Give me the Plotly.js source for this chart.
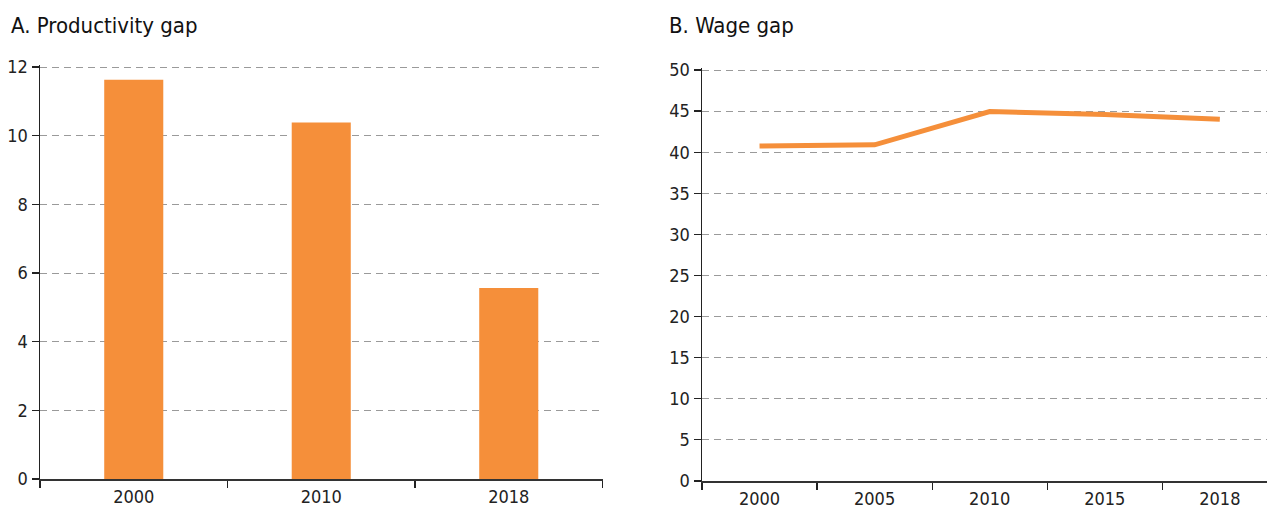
<!DOCTYPE html>
<html>
<head>
<meta charset="utf-8">
<script src="https://cdn.plot.ly/plotly-3.0.1.min.js"></script>
<style>html,body{margin:0;padding:0;background:#fff;}#chart{width:1267px;height:508px;}</style>
</head>
<body>
<div id="chart"></div>
<script>
const prodYears = ['2000', '2010', '2018'];
const prodGap = [11.63, 10.38, 5.56];
const wageYears = ['2000', '2005', '2010', '2015', '2018'];
const wageGap = [40.75, 40.9, 44.95, 44.6, 44.0];
const titleA = 'A. Productivity gap';
const titleB = 'B. Wage gap';

const FONT = '"Liberation Sans Narrow", "DejaVu Sans Condensed", "Arial Narrow", sans-serif';
const ORANGE = '#F58F3A';

const traces = [
  {type: 'bar', x: prodYears, y: prodGap, xaxis: 'x', yaxis: 'y',
   marker: {color: ORANGE, line: {width: 0}}, hoverinfo: 'skip'},
  {type: 'scatter', mode: 'lines', x: wageYears, y: wageGap, xaxis: 'x2', yaxis: 'y2',
   line: {color: ORANGE, width: 5}, hoverinfo: 'skip'}
];

const common = {
  showline: true, linecolor: '#222', linewidth: 1.5,
  ticks: 'outside', ticklen: 7, tickcolor: '#222', tickwidth: 1.2,
  tickfont: {family: FONT, size: 18, color: '#222'},
  zeroline: false, fixedrange: true
};

const H = 508, W = 1267;
const ytopA = 67 - 0.05 * (412 / 12);
const ytopB = 70 - 0.25 * (411 / 50);

const layout = {
  width: W, height: H,
  margin: {l: 0, r: 0, t: 0, b: 0},
  paper_bgcolor: '#fff', plot_bgcolor: 'rgba(0,0,0,0)',
  showlegend: false,
  bargap: 0.685,
  font: {family: FONT, color: '#222'},
  xaxis: Object.assign({}, common, {
    domain: [40/W, 602.5/W], type: 'category', range: [-0.5, 2.5],
    tickson: 'boundaries', showgrid: false, anchor: 'y', linecolor: '#333', linewidth: 2,
    ticklabelstandoff: 0
  }),
  yaxis: Object.assign({}, common, {
    domain: [29/H, (H - ytopA)/H], range: [0, 12.05], dtick: 2, tick0: 0,
    showgrid: true, gridcolor: '#9a9a9a', gridwidth: 1, griddash: '7px,5px', anchor: 'x'
  }),
  xaxis2: Object.assign({}, common, {
    domain: [702/W, 1], type: 'category', range: [-0.5, 4.41],
    tickson: 'boundaries', showgrid: false, anchor: 'y2', linecolor: '#333', linewidth: 2,
    ticklabelstandoff: 0
  }),
  yaxis2: Object.assign({}, common, {
    domain: [27/H, (H - ytopB)/H], range: [0, 50.25], dtick: 5, tick0: 0,
    showgrid: true, gridcolor: '#9a9a9a', gridwidth: 1, griddash: '7px,5px', anchor: 'x2'
  }),
  annotations: [
    {text: titleA, xref: 'paper', yref: 'paper', x: 9/W, y: 1 - 11/H,
     xanchor: 'left', yanchor: 'top', showarrow: false,
     font: {family: FONT, size: 22, color: '#111'}},
    {text: titleB, xref: 'paper', yref: 'paper', x: 667/W, y: 1 - 11/H,
     xanchor: 'left', yanchor: 'top', showarrow: false,
     font: {family: FONT, size: 22, color: '#111'}}
  ]
};

Plotly.newPlot('chart', traces, layout, {displayModeBar: false, staticPlot: true});
</script>
</body>
</html>
